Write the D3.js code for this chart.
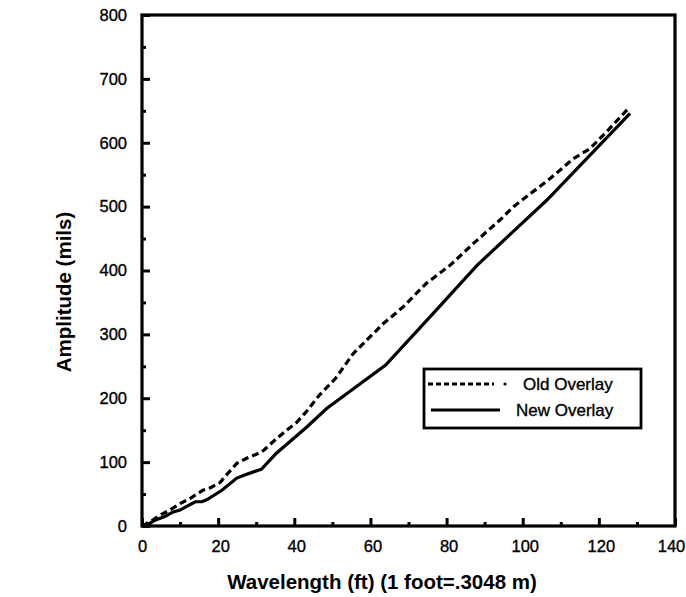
<!DOCTYPE html>
<html>
<head>
<meta charset="utf-8">
<script src="https://cdn.jsdelivr.net/npm/d3@7"></script>
<style>
  body { margin: 0; background: #fff; }
  svg text { font-family: "Liberation Sans", Arial, Helvetica, sans-serif; fill: #000; }
  .inked { stroke: #000; stroke-width: 0.35px; }
</style>
</head>
<body>
<svg id="chart" width="686" height="597"></svg>
<script>
// Old overlay (dashed)
var oldWavelength = [0, 2.5, 4.7, 7, 10, 12.6, 16, 18, 20.5, 22.2, 24.9, 27.5, 31.5, 35, 38, 40.6, 43.3, 46.6, 50.7, 55.5, 59, 63.4, 68.6, 74.7, 80.9, 87, 94, 97.6, 107.2, 113.3, 117.7, 122, 127.5];
var oldAmplitude  = [0, 8, 17, 24, 35, 43, 56, 60, 68, 80, 98, 106, 116, 135, 150, 162, 180, 205, 230, 270, 291, 317, 343, 380, 408, 442, 479, 500, 544, 575, 591, 617, 652];

// New overlay (solid)
var newWavelength = [0, 1.5, 3.4, 6, 8.2, 10, 11.5, 14, 15.7, 17, 21, 24.9, 28, 31.4, 35.3, 43.3, 48.5, 64, 76.5, 88, 106.3, 128.2];
var newAmplitude  = [0, 2, 9, 15, 22, 25, 30, 38, 38, 41, 56, 75, 82, 89, 114, 155, 184, 252, 333, 408, 510, 646];

var xTicks = [0, 20, 40, 60, 80, 100, 120, 140];
var xMinorTicks = [10, 30, 50, 70, 90, 110, 130];
var yTicks = [0, 100, 200, 300, 400, 500, 600, 700, 800];
var yMinorTicks = [50, 150, 250, 350, 450, 550, 650, 750];

var seriesNames = ["Old Overlay", "New Overlay"];

var svg = d3.select("#chart");
var margin = {left: 142, top: 15, right: 11, bottom: 71};
var width = 686 - margin.left - margin.right,
    height = 597 - margin.top - margin.bottom;

var g = svg.append("g").attr("transform", "translate(" + margin.left + "," + margin.top + ")");

var x = d3.scaleLinear().domain([0, 140]).range([0, width]);
var y = d3.scaleLinear().domain([0, 800]).range([height, 0]);

// axes, ticks pointing inward
g.append("g")
  .attr("class", "x-axis")
  .attr("transform", "translate(0," + height + ")")
  .call(d3.axisBottom(x).tickValues(xTicks).tickSize(-8).tickPadding(14));
g.append("g")
  .attr("transform", "translate(0," + height + ")")
  .call(d3.axisBottom(x).tickValues(xMinorTicks).tickSize(-4).tickFormat(""));
g.append("g")
  .call(d3.axisLeft(y).tickValues(yTicks).tickSize(-8).tickPadding(15));
g.append("g")
  .call(d3.axisLeft(y).tickValues(yMinorTicks).tickSize(-4).tickFormat(""));

g.selectAll(".domain").remove();
g.selectAll(".tick line").attr("stroke", "#000").attr("stroke-width", 3);
g.selectAll(".tick text").attr("class", "inked").style("font-size", "16.5px");
// last x label sits a bit left of its tick, like the original
g.selectAll(".x-axis .tick text").filter(function(d) { return d === 140; }).attr("dx", -4);
g.selectAll(".x-axis .tick text").filter(function(d) { return d !== 140 && d !== 0; }).attr("dx", 2);

// frame
g.append("rect")
  .attr("x", 0).attr("y", 0)
  .attr("width", width).attr("height", height)
  .attr("fill", "none")
  .attr("stroke", "#000")
  .attr("stroke-width", 3.2);

var line = d3.line()
  .x(function(d) { return x(d[0]); })
  .y(function(d) { return y(d[1]); });

var oldData = d3.zip(oldWavelength, oldAmplitude);
var newData = d3.zip(newWavelength, newAmplitude);

g.append("path")
  .datum(oldData)
  .attr("d", line)
  .attr("fill", "none")
  .attr("stroke", "#000")
  .attr("stroke-width", 3.2)
  .attr("stroke-dasharray", "7,4");

g.append("path")
  .datum(newData)
  .attr("d", line)
  .attr("fill", "none")
  .attr("stroke", "#000")
  .attr("stroke-width", 3.2);

// legend
var legend = g.append("g").attr("transform", "translate(" + (424 - margin.left) + "," + (369 - margin.top) + ")");
legend.append("rect")
  .attr("width", 217).attr("height", 59)
  .attr("fill", "#fff")
  .attr("stroke", "#000")
  .attr("stroke-width", 2.8);
legend.append("line")
  .attr("x1", 4).attr("x2", 70).attr("y1", 15).attr("y2", 15)
  .attr("stroke", "#000").attr("stroke-width", 2.8)
  .attr("stroke-dasharray", "5,3");
legend.append("circle")
  .attr("cx", 81).attr("cy", 15).attr("r", 1.6).attr("fill", "#000");
legend.append("line")
  .attr("x1", 7).attr("x2", 76).attr("y1", 41).attr("y2", 41)
  .attr("stroke", "#000").attr("stroke-width", 3.2);
legend.append("text").attr("class", "inked").attr("x", 99).attr("y", 21).style("font-size", "17px").text(seriesNames[0]);
legend.append("text").attr("class", "inked").attr("x", 92).attr("y", 47).style("font-size", "17px").text(seriesNames[1]);

// axis titles
svg.append("text")
  .attr("x", 382).attr("y", 589)
  .attr("text-anchor", "middle")
  .style("font-size", "20.5px").style("font-weight", "bold")
  .text("Wavelength (ft) (1 foot=.3048 m)");

svg.append("text")
  .attr("transform", "translate(71,292) rotate(-90)")
  .attr("text-anchor", "middle")
  .style("font-size", "20.5px").style("font-weight", "bold")
  .text("Amplitude (mils)");
</script>
</body>
</html>
